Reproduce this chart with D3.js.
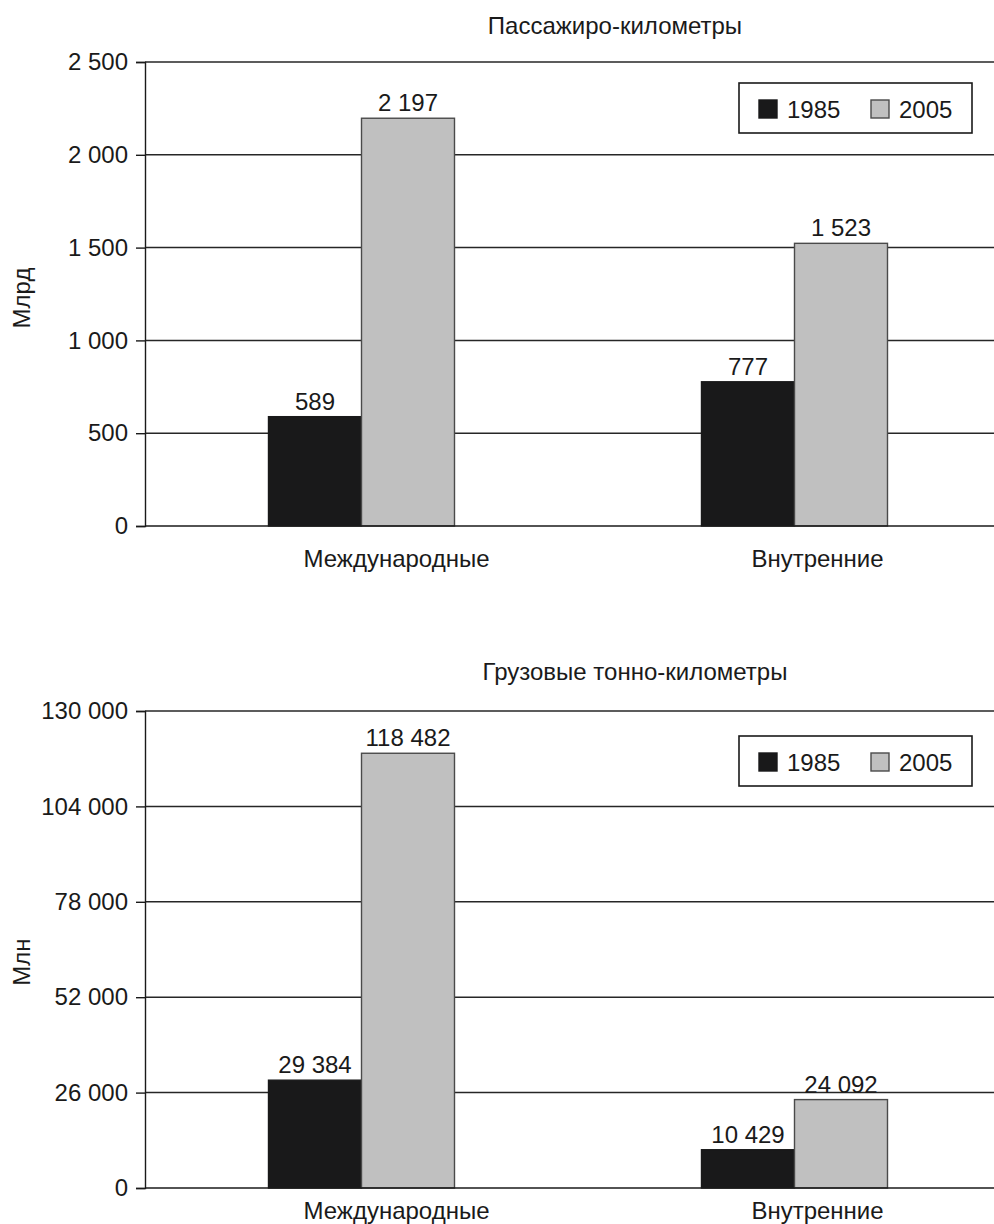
<!DOCTYPE html>
<html lang="ru">
<head>
<meta charset="utf-8">
<script src="https://cdn.jsdelivr.net/npm/d3@7"></script>
<style>
  html, body { margin: 0; padding: 0; background: #ffffff; }
  svg { display: block; }
  text { font-family: "Liberation Sans", Arial, sans-serif; fill: #1a1a1a; }
</style>
</head>
<body>
<svg id="chart" width="994" height="1224"></svg>
<script>
// Data
const categories = ["Международные", "Внутренние"];
const years = ["1985", "2005"];

const passengerKm1985 = [589, 777];
const passengerKm2005 = [2197, 1523];
const passengerTicks = [0, 500, 1000, 1500, 2000, 2500];

const cargoKm1985 = [29384, 10429];
const cargoKm2005 = [118482, 24092];
const cargoTicks = [0, 26000, 52000, 78000, 104000, 130000];

const titles = ["Пассажиро-километры", "Грузовые тонно-километры"];
const unitLabels = ["Млрд", "Млн"];

// Styling / layout
const FONT = 24;
const yearColors = { "1985": "#19191a", "2005": "#c0c0c0" };
const yearStroke = { "1985": "#19191a", "2005": "#4a4a4a" };
const fmt = v => d3.format(",")(v).replace(/,/g, " ");

const svg = d3.select("#chart");

const panels = [
  {
    s1985: passengerKm1985, s2005: passengerKm2005, ticks: passengerTicks,
    title: titles[0], unit: unitLabels[0],
    top: 62, bottom: 526, titleY: 34, titleX: 615, unitY: 298,
    legendY: 83, catLabelY: 567, labelShift: [35, 23]
  },
  {
    s1985: cargoKm1985, s2005: cargoKm2005, ticks: cargoTicks,
    title: titles[1], unit: unitLabels[1],
    top: 711, bottom: 1188, titleY: 680, titleX: 635, unitY: 962,
    legendY: 736, catLabelY: 1219, labelShift: [35, 23]
  }
];

const left = 145;
const right = 1011;

panels.forEach(p => {
  const g = svg.append("g");
  const maxTick = p.ticks[p.ticks.length - 1];

  const y = d3.scaleLinear().domain([0, maxTick]).range([p.bottom, p.top]);
  const x = d3.scaleBand().domain(categories).range([left, right]).padding(0);
  const xInner = d3.scaleBand().domain(years).range([-93, 93]).padding(0);

  // Horizontal gridlines
  g.append("g")
    .selectAll("line")
    .data(p.ticks.filter(t => t > 0))
    .join("line")
    .attr("x1", left).attr("x2", 994)
    .attr("y1", d => y(d)).attr("y2", d => y(d))
    .attr("stroke", "#262626")
    .attr("stroke-width", 1.5);

  // Y axis with ticks
  const yAxis = d3.axisLeft(y).tickValues(p.ticks).tickFormat(fmt).tickSize(9).tickPadding(8);
  const ya = g.append("g").attr("transform", `translate(${left},0)`).call(yAxis);
  ya.select(".domain").attr("stroke", "#1a1a1a").attr("stroke-width", 1.4);
  ya.selectAll(".tick line").attr("stroke", "#1a1a1a").attr("stroke-width", 1.4);
  ya.selectAll(".tick text")
    .attr("font-size", FONT)
    .attr("font-family", "Liberation Sans, Arial, sans-serif")
    .attr("fill", "#1a1a1a");

  // Bars
  const rows = categories.map((c, i) => ({ cat: c, i, values: { "1985": p.s1985[i], "2005": p.s2005[i] } }));
  const grp = g.append("g").selectAll("g")
    .data(rows)
    .join("g")
    .attr("transform", d => `translate(${x(d.cat) + x.bandwidth() / 2},0)`);

  grp.selectAll("rect")
    .data(d => years.map(yr => ({ yr, v: d.values[yr] })))
    .join("rect")
    .attr("x", d => xInner(d.yr))
    .attr("width", xInner.bandwidth())
    .attr("y", d => y(d.v))
    .attr("height", d => y(0) - y(d.v))
    .attr("fill", d => yearColors[d.yr])
    .attr("stroke", d => yearStroke[d.yr])
    .attr("stroke-width", 1.4);

  // Value labels
  grp.selectAll("text.val")
    .data(d => years.map(yr => ({ yr, v: d.values[yr] })))
    .join("text")
    .attr("class", "val")
    .attr("x", d => xInner(d.yr) + xInner.bandwidth() / 2)
    .attr("y", d => y(d.v) - 7)
    .attr("text-anchor", "middle")
    .attr("font-size", FONT)
    .text(d => fmt(d.v));

  // X axis baseline
  g.append("line")
    .attr("x1", left).attr("x2", 994)
    .attr("y1", y(0)).attr("y2", y(0))
    .attr("stroke", "#1a1a1a")
    .attr("stroke-width", 1.4);

  // Category labels
  g.append("g").selectAll("text")
    .data(categories)
    .join("text")
    .attr("x", (d, i) => x(d) + x.bandwidth() / 2 + p.labelShift[i])
    .attr("y", p.catLabelY)
    .attr("text-anchor", "middle")
    .attr("font-size", FONT)
    .text(d => d);

  // Title
  g.append("text")
    .attr("x", p.titleX).attr("y", p.titleY)
    .attr("text-anchor", "middle")
    .attr("font-size", FONT)
    .text(p.title);

  // Unit label
  g.append("text")
    .attr("transform", `translate(30,${p.unitY}) rotate(-90)`)
    .attr("text-anchor", "middle")
    .attr("font-size", FONT)
    .text(p.unit);

  // Legend
  const lg = g.append("g").attr("transform", `translate(739,${p.legendY})`);
  lg.append("rect")
    .attr("width", 233).attr("height", 50)
    .attr("fill", "#ffffff")
    .attr("stroke", "#1a1a1a")
    .attr("stroke-width", 1.6);
  const items = lg.selectAll("g.item")
    .data(years)
    .join("g")
    .attr("class", "item")
    .attr("transform", (d, i) => `translate(${20 + i * 112},17)`);
  items.append("rect")
    .attr("width", 18).attr("height", 18)
    .attr("fill", d => yearColors[d])
    .attr("stroke", d => yearStroke[d])
    .attr("stroke-width", 1.4);
  items.append("text")
    .attr("x", 28).attr("y", 18)
    .attr("font-size", FONT)
    .text(d => d);
});
</script>
</body>
</html>
